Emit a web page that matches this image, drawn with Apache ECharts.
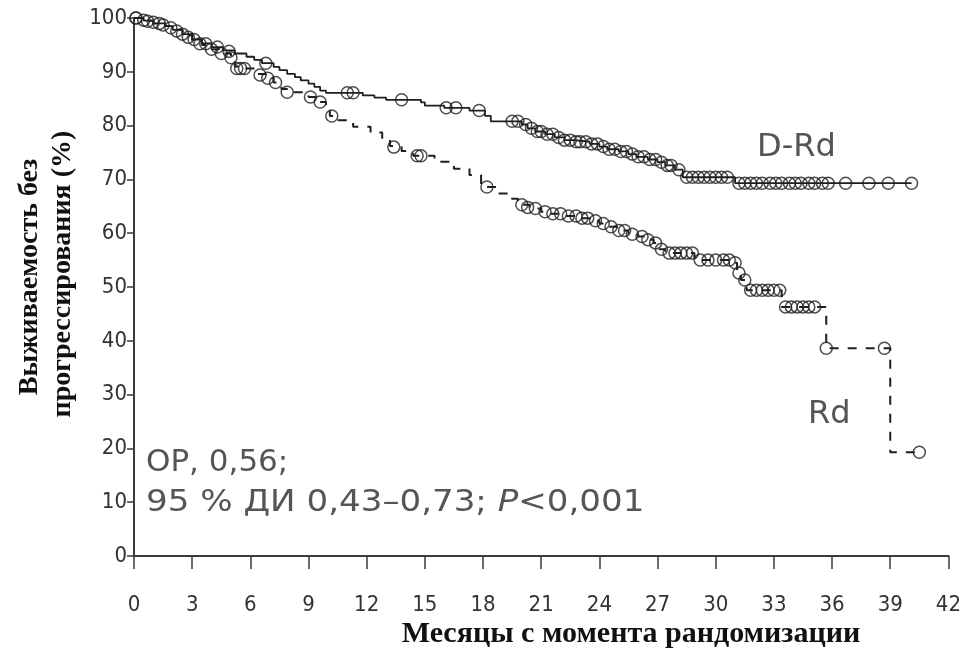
<!DOCTYPE html>
<html>
<head>
<meta charset="utf-8">
<script src="https://cdn.jsdelivr.net/npm/echarts@6/dist/echarts.min.js"></script>
<style>html,body{margin:0;padding:0;background:#fff;}#c{width:964px;height:651px;}</style>
</head>
<body>
<div id="c"></div>
<script>
// X ticks (months)
const xTicks = [0,3,6,9,12,15,18,21,24,27,30,33,36,39,42];
const yTicks = [0,10,20,30,40,50,60,70,80,90,100];

// D-Rd Kaplan-Meier steps [month, survival %]
const drdSteps = [
  [0,100],[0.5,99.5],[1.0,99.0],[1.6,98.5],[2.0,97.8],[2.5,97.0],[3.0,96.0],[3.5,95.3],
  [4.0,94.6],[4.6,94.0],[5.2,93.4],[5.8,92.8],[6.2,92.2],[6.6,91.6],[7.2,90.9],[7.5,90.3],
  [7.9,89.6],[8.3,89.0],[8.6,88.4],[9.0,87.8],[9.3,87.2],[9.6,86.5],[9.9,86.1],[11.8,85.6],
  [12.4,85.2],[13.0,84.8],[14.8,84.3],[15.0,83.7],[16.0,83.3],[17.3,82.8],[18.1,81.8],[18.4,80.8],
  [20.0,80.2],[20.3,79.5],[20.7,78.9],[21.2,78.4],[21.7,77.8],[22.2,77.3],[22.7,77.0],[23.5,76.6],
  [24.0,76.1],[24.4,75.6],[25.0,75.2],[25.5,74.7],[25.9,74.2],[26.5,73.7],[27.0,73.2],[27.4,72.6],
  [27.9,71.8],[28.3,70.4],[31.0,69.3],[40.1,69.3]
];
// D-Rd censored observations
const drdCensor = [
  [0.1,100],[0.7,99.4],[1.3,99.0],[1.9,98.2],[2.5,97.0],[3.1,96.0],[3.7,95.2],[4.3,94.6],[4.9,93.8],
  [6.8,91.6],[11.0,86.1],[11.3,86.1],[13.8,84.8],[16.1,83.3],[16.6,83.3],[17.8,82.8],[19.5,80.8],
  [19.8,80.8],[20.2,80.2],[20.5,79.5],[20.8,78.9],[21.0,78.9],[21.3,78.4],[21.6,78.4],[21.9,77.8],
  [22.2,77.3],[22.5,77.3],[22.8,77.0],[23.0,77.0],[23.3,77.0],[23.6,76.6],[23.9,76.6],[24.2,76.1],
  [24.5,75.6],[24.8,75.6],[25.1,75.2],[25.4,75.2],[25.7,74.7],[26.0,74.2],[26.3,74.2],[26.6,73.7],
  [26.9,73.7],[27.2,73.2],[27.5,72.6],[27.7,72.6],[28.1,71.8],[28.5,70.4],[28.8,70.4],[29.1,70.4],
  [29.4,70.4],[29.7,70.4],[30.0,70.4],[30.3,70.4],[30.6,70.4],[31.2,69.3],[31.5,69.3],[31.8,69.3],
  [32.1,69.3],[32.4,69.3],[32.8,69.3],[33.1,69.3],[33.4,69.3],[33.8,69.3],[34.1,69.3],[34.4,69.3],
  [34.8,69.3],[35.1,69.3],[35.5,69.3],[35.8,69.3],[36.7,69.3],[37.9,69.3],[38.9,69.3],[40.1,69.3]
];
// Rd Kaplan-Meier steps
const rdSteps = [
  [0,100],[0.5,99.5],[1.0,99.0],[1.6,98.5],[2.0,97.8],[2.5,96.8],[3.0,95.8],[3.5,95.0],
  [4.0,94.2],[4.5,93.4],[5.0,92.6],[5.2,91.0],[5.4,90.6],[6.3,89.6],[6.8,88.8],[7.2,88.0],
  [7.6,86.8],[7.9,86.2],[9.0,85.3],[9.4,84.4],[9.9,83.0],[10.1,81.8],[10.5,81.0],[11.3,79.8],
  [12.2,78.7],[12.8,77.4],[13.2,76.2],[13.8,75.3],[14.4,74.4],[15.5,73.3],[16.5,72.0],[17.3,70.8],
  [17.9,68.6],[18.8,67.4],[19.4,66.4],[19.8,65.3],[20.4,64.6],[21.0,64.0],[21.5,63.6],[22.3,63.2],
  [23.0,62.8],[23.6,62.3],[24.0,61.8],[24.4,61.2],[24.9,60.5],[25.5,59.8],[26.0,59.4],[26.4,58.8],
  [26.8,58.2],[27.1,57.0],[27.4,56.3],[28.9,55.0],[30.9,54.5],[31.1,52.6],[31.3,51.3],[31.6,49.4],
  [33.4,46.3],[35.7,38.6],[39.0,19.3],[40.5,19.3]
];
// Rd censored observations
const rdCensor = [
  [0.1,100],[0.5,99.6],[1.0,99.2],[1.5,98.7],[2.2,97.6],[2.8,96.4],[3.4,95.2],[4.0,94.2],[4.5,93.4],
  [5.0,92.6],[5.3,90.6],[5.5,90.6],[5.7,90.6],[6.5,89.4],[6.9,88.8],[7.3,88.0],[7.9,86.2],[9.1,85.3],
  [9.6,84.4],[10.2,81.8],[13.4,76.0],[14.6,74.4],[14.8,74.4],[18.2,68.6],[20.0,65.3],[20.3,64.8],
  [20.7,64.6],[21.2,64.0],[21.6,63.6],[22.0,63.6],[22.4,63.2],[22.8,63.2],[23.1,62.8],[23.4,62.8],
  [23.8,62.3],[24.2,61.8],[24.6,61.2],[25.0,60.5],[25.3,60.5],[25.7,59.8],[26.2,59.4],[26.5,58.8],
  [26.9,58.2],[27.2,57.0],[27.6,56.3],[27.9,56.3],[28.2,56.3],[28.5,56.3],[28.8,56.3],[29.2,55.0],
  [29.6,55.0],[30.0,55.0],[30.4,55.0],[30.7,55.0],[31.0,54.5],[31.2,52.6],[31.5,51.3],[31.8,49.4],
  [32.1,49.4],[32.4,49.4],[32.7,49.4],[33.0,49.4],[33.3,49.4],[33.6,46.3],[33.9,46.3],[34.2,46.3],
  [34.5,46.3],[34.8,46.3],[35.1,46.3],[35.7,38.6],[38.7,38.6],[40.5,19.3]
];

const seriesNames = ['D-Rd','Rd'];
const xAxisTitle = 'Месяцы с момента рандомизации';
const yAxisTitle1 = 'Выживаемость без';
const yAxisTitle2 = 'прогрессирования (%)';
const hrLine1 = 'ОР, 0,56;';

const chart = echarts.init(document.getElementById('c'), null, {renderer:'canvas'});
const axisColor = '#3a3a3a';
const narrow = "'Liberation Sans Narrow','DejaVu Sans Condensed','Roboto Condensed',sans-serif";
const annot = "'DejaVu Sans',Verdana,sans-serif";
const serif = "'Liberation Serif','Times New Roman',serif";
const censorStyle = {color:'rgba(0,0,0,0)', borderColor:'#222', borderWidth:1.5};

chart.setOption({
  animation:false,
  backgroundColor:'#fff',
  grid:{left:134, right:12, top:18, bottom:95, containLabel:false},
  xAxis:{
    type:'value', min:0, max:42, interval:3,
    axisLine:{show:true, onZero:false, lineStyle:{color:axisColor, width:2}},
    axisTick:{show:true, length:13, lineStyle:{color:axisColor, width:1.5}},
    axisLabel:{margin:38, fontFamily:narrow, fontSize:22, color:'#333'},
    splitLine:{show:false}
  },
  yAxis:{
    type:'value', min:0, max:100, interval:10,
    axisLine:{show:true, onZero:false, lineStyle:{color:axisColor, width:2}},
    axisTick:{show:true, length:7, lineStyle:{color:axisColor, width:1.5}},
    axisLabel:{margin:7, fontFamily:narrow, fontSize:22, color:'#333'},
    splitLine:{show:false}
  },
  series:[
    {name:seriesNames[0], type:'line', step:'end', data:drdSteps, showSymbol:false, symbol:'none',
     lineStyle:{color:'#1e1e1e', width:1.8}, z:3},
    {name:seriesNames[1], type:'line', step:'end', data:rdSteps, showSymbol:false, symbol:'none',
     lineStyle:{color:'#1e1e1e', width:2, type:[9,9]}, z:3},
    {name:seriesNames[0]+' censored', type:'scatter', data:drdCensor, symbol:'circle', symbolSize:12,
     itemStyle:censorStyle, z:4},
    {name:seriesNames[1]+' censored', type:'scatter', data:rdCensor, symbol:'circle', symbolSize:12,
     itemStyle:censorStyle, z:4}
  ],
  graphic:[
    {type:'text', left:757, top:132, style:{text:seriesNames[0], font:"32px "+annot, fill:'#555'}},
    {type:'text', left:808, top:399, style:{text:seriesNames[1], font:"32px "+annot, fill:'#555'}},
    {type:'text', x:146, y:447, style:{text:hrLine1, font:"31px "+annot, fill:'#555'}},
    {type:'text', x:146, y:487, scaleX:1.1, style:{
      rich:{n:{font:"31px "+annot, fill:'#555'}, i:{font:"italic 31px "+annot, fill:'#555'}},
      text:'{n|95 % ДИ 0,43–0,73; }{i|P}{n|<0,001}'}},
    {type:'text', x:631, y:634, style:{text:xAxisTitle, font:"bold 30px "+serif, fill:'#111', align:'center', verticalAlign:'middle'}},
    {type:'text', x:30, y:277, rotation:Math.PI/2, style:{text:yAxisTitle1, font:"bold 28px "+serif, fill:'#111', align:'center', verticalAlign:'middle'}},
    {type:'text', x:63, y:274, rotation:Math.PI/2, style:{text:yAxisTitle2, font:"bold 28px "+serif, fill:'#111', align:'center', verticalAlign:'middle'}}
  ]
});
</script>
</body>
</html>
